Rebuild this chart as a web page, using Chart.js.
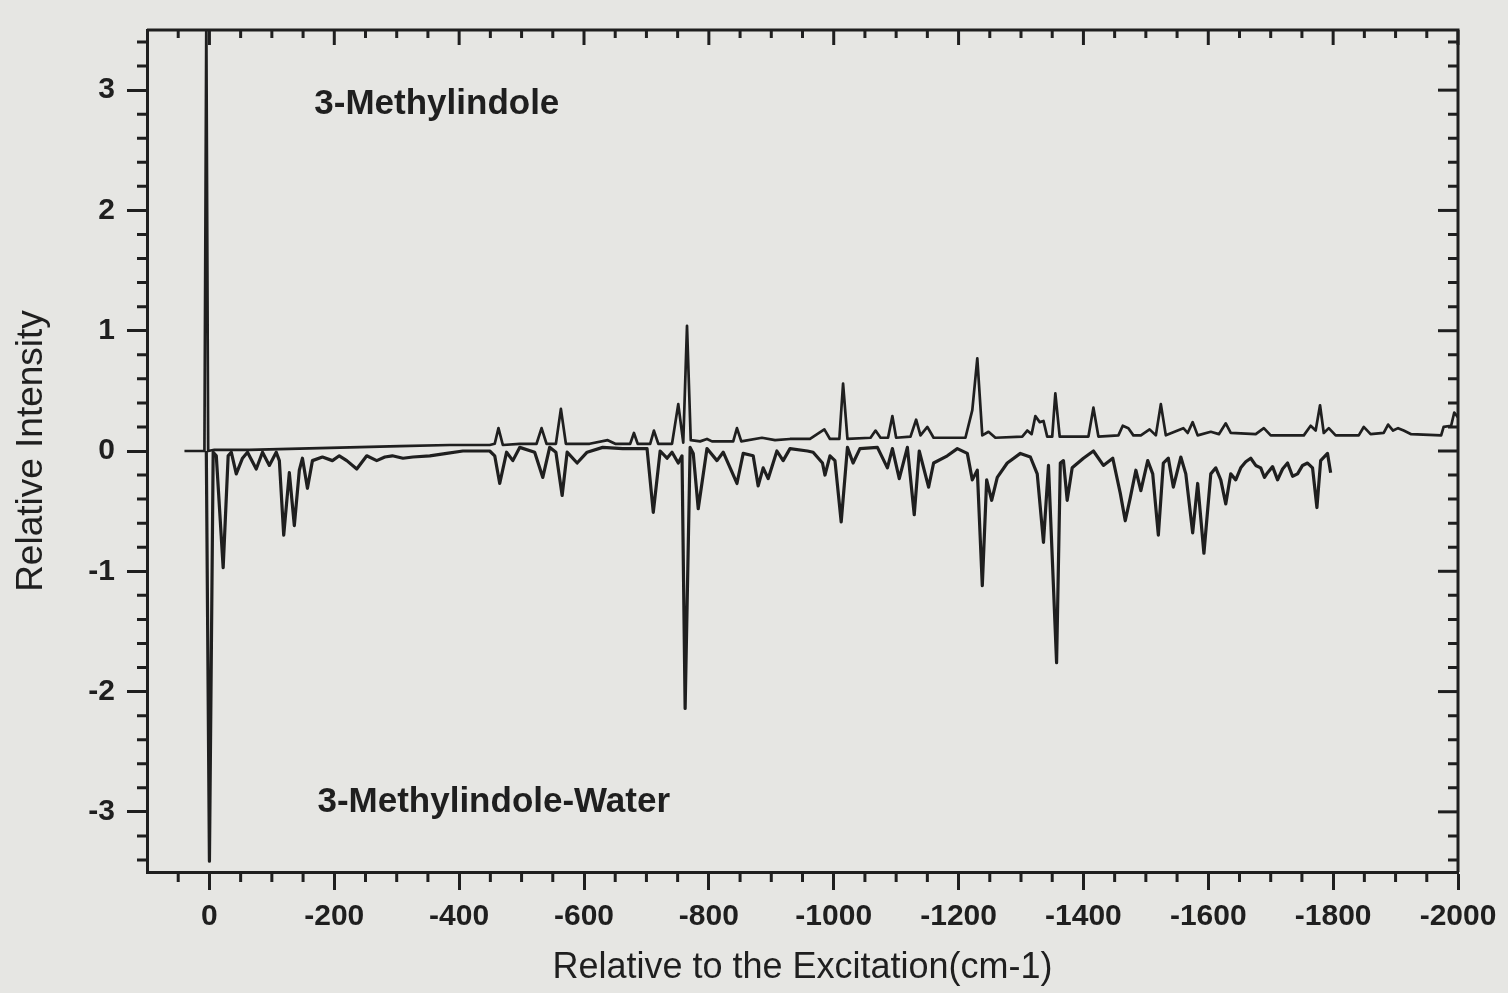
<!DOCTYPE html>
<html>
<head>
<meta charset="utf-8">
<title>3-Methylindole</title>
<script src="https://cdn.jsdelivr.net/npm/chart.js@4.4.1/dist/chart.umd.min.js"></script>
<style>
html, body { margin: 0; padding: 0; background: #e6e6e3; }
#wrap { width: 1508px; height: 993px; }
</style>
</head>
<body>
<div id="wrap"><canvas id="c"></canvas></div>
<script>
// 3-Methylindole (upper trace)
const upperX = [40, 16, 8, 5, 2,
  -8, -64, -144, -225, -305, -385,
  -449, -457, -463, -470,
  -497, -524, -532, -540,
  -555, -563, -571,
  -609, -638, -650,
  -674, -680, -686,
  -706, -712, -719,
  -741, -751, -759, -765, -771,
  -786, -797, -805,
  -839, -845, -852,
  -885, -906, -930, -962,
  -985, -994, -1009, -1015, -1022,
  -1059, -1067, -1075,
  -1087, -1094, -1100,
  -1123, -1132, -1139, -1150, -1160,
  -1211, -1222, -1230, -1238, -1248, -1259,
  -1302, -1310, -1317, -1323, -1330, -1336, -1342,
  -1350, -1355, -1362,
  -1408, -1416, -1424,
  -1456, -1463, -1472, -1480,
  -1492, -1506, -1516, -1524, -1532,
  -1560, -1567, -1575, -1583,
  -1604, -1617, -1628, -1636,
  -1676, -1689, -1700,
  -1753, -1764, -1772, -1779, -1785, -1793, -1804,
  -1841, -1849, -1860,
  -1881, -1888, -1896, -1904, -1913, -1925,
  -1973, -1977, -1989, -1994, -2000];
const upperY = [0, 0, 0, 3.6, 0,
  0.01, 0.01, 0.02, 0.03, 0.04, 0.05,
  0.05, 0.06, 0.19, 0.05,
  0.06, 0.06, 0.19, 0.06,
  0.06, 0.35, 0.06,
  0.06, 0.09, 0.06,
  0.06, 0.15, 0.06,
  0.06, 0.17, 0.06,
  0.06, 0.39, 0.07, 1.04, 0.09,
  0.08, 0.10, 0.08,
  0.08, 0.19, 0.08,
  0.11, 0.09, 0.10, 0.10,
  0.18, 0.10, 0.10, 0.56, 0.10,
  0.11, 0.17, 0.11,
  0.11, 0.29, 0.11,
  0.12, 0.26, 0.13, 0.20, 0.11,
  0.11, 0.34, 0.77, 0.13, 0.16, 0.11,
  0.12, 0.17, 0.14, 0.29, 0.24, 0.25, 0.12,
  0.12, 0.48, 0.12,
  0.12, 0.36, 0.12,
  0.13, 0.21, 0.19, 0.13,
  0.13, 0.18, 0.13, 0.39, 0.13,
  0.19, 0.15, 0.24, 0.13,
  0.16, 0.14, 0.23, 0.15,
  0.14, 0.19, 0.13,
  0.13, 0.21, 0.17, 0.38, 0.15, 0.19, 0.13,
  0.13, 0.20, 0.14,
  0.15, 0.22, 0.17, 0.19, 0.17, 0.14,
  0.13, 0.20, 0.21, 0.32, 0.28];

// 3-Methylindole-Water (lower trace)
const lowerX = [5, 0, -6, -11, -22, -30, -35, -43, -53, -61, -75, -85, -96, -107, -112,
  -119, -128, -136, -144, -149, -157, -165, -181, -197, -208, -220, -236, -252, -268,
  -281, -293, -310, -326, -353, -380, -406, -433, -449, -457, -465, -476, -486, -497,
  -521, -534, -545, -555, -565, -573, -589, -605, -630, -662, -701, -711, -722, -733,
  -741, -751, -757, -762, -770, -775, -783, -797, -813, -823, -845, -855, -871, -879,
  -887, -895, -909, -919, -930, -958, -967, -982, -986, -994, -1002, -1012, -1022,
  -1031, -1042, -1070, -1086, -1094, -1105, -1118, -1129, -1137, -1152, -1160, -1182,
  -1198, -1214, -1222, -1230, -1238, -1245, -1253, -1262, -1278, -1299, -1315, -1326,
  -1336, -1344, -1357, -1363, -1368, -1374, -1382, -1400, -1416, -1432, -1447, -1459,
  -1467, -1475, -1484, -1492, -1503, -1511, -1520, -1528, -1536, -1544, -1556, -1564,
  -1575, -1583, -1593, -1604, -1612, -1620, -1628,
  -1636, -1644, -1652, -1660, -1668, -1676, -1684, -1690, -1695, -1703, -1711,
  -1719, -1727, -1735, -1743, -1751, -1759, -1767, -1774, -1780, -1791, -1796];
const lowerY = [0, -3.41, -0.01, -0.04, -0.97, -0.04, -0.01, -0.19, -0.06, -0.01, -0.15, -0.01, -0.12, -0.01, -0.08,
  -0.70, -0.18, -0.62, -0.16, -0.06, -0.31, -0.08, -0.05, -0.08, -0.04, -0.08, -0.15, -0.04, -0.08,
  -0.05, -0.04, -0.06, -0.05, -0.04, -0.02, 0, 0, 0, -0.04, -0.27, -0.01, -0.08, 0.03,
  -0.01, -0.22, 0.03, -0.01, -0.37, -0.01, -0.10, -0.01, 0.03, 0.02, 0.02, -0.51, 0, -0.06,
  -0.01, -0.10, -0.04, -2.14, 0.03, -0.02, -0.48, 0.02, -0.08, -0.01, -0.27, -0.02, -0.04, -0.29,
  -0.14, -0.23, 0, -0.08, 0.02, 0, -0.01, -0.10, -0.20, -0.04, -0.08, -0.59, 0.03,
  -0.10, 0.02, 0.03, -0.14, 0.02, -0.23, 0.03, -0.53, 0, -0.30, -0.10, -0.04,
  0.02, -0.02, -0.24, -0.16, -1.12, -0.24, -0.41, -0.22, -0.10, -0.02, -0.05, -0.19,
  -0.76, -0.12, -1.76, -0.10, -0.08, -0.41, -0.14, -0.06, 0, -0.12, -0.06, -0.35,
  -0.58, -0.39, -0.16, -0.33, -0.08, -0.19, -0.70, -0.10, -0.06, -0.30, -0.05, -0.19,
  -0.68, -0.27, -0.85, -0.19, -0.14, -0.24, -0.44,
  -0.19, -0.24, -0.14, -0.09, -0.06, -0.12, -0.14, -0.22, -0.18, -0.13, -0.24,
  -0.15, -0.10, -0.21, -0.19, -0.12, -0.10, -0.14, -0.47, -0.08, -0.02, -0.18];

const xTicks = [0, -200, -400, -600, -800, -1000, -1200, -1400, -1600, -1800, -2000];
const yTicks = [-3, -2, -1, 0, 1, 2, 3];

const INK = '#1f1f1f';
const FONT = '"Liberation Sans", Arial, sans-serif';

function pts(xs, ys) {
  return xs.map((v, i) => ({ x: v, y: ys[i] }));
}

// box, minor ticks and inward ticks on top/right
const frame = {
  id: 'frame',
  afterDraw(chart) {
    const { ctx, chartArea: a, scales: { x, y } } = chart;
    ctx.save();
    ctx.strokeStyle = INK;
    ctx.lineWidth = 3;
    ctx.beginPath();
    ctx.moveTo(a.left, a.top);
    ctx.lineTo(a.right, a.top);
    ctx.lineTo(a.right, a.bottom);
    ctx.stroke();
    for (let k = 1; k >= -40; k--) {
      const px = x.getPixelForValue(k * 50);
      const major = k % 4 === 0;
      ctx.beginPath();
      if (!major) {
        ctx.moveTo(px, a.bottom);
        ctx.lineTo(px, a.bottom + 10);
      }
      ctx.moveTo(px, a.top);
      ctx.lineTo(px, a.top + (major ? 15 : 8));
      ctx.stroke();
    }
    for (let k = -17; k <= 17; k++) {
      const py = y.getPixelForValue(k / 5);
      const major = k % 5 === 0;
      ctx.beginPath();
      if (!major) {
        ctx.moveTo(a.left, py);
        ctx.lineTo(a.left - 10, py);
      }
      ctx.moveTo(a.right, py);
      ctx.lineTo(a.right - (major ? 20 : 10), py);
      ctx.stroke();
    }
    // trace labels
    ctx.fillStyle = INK;
    ctx.font = 'bold 35px ' + FONT;
    ctx.textBaseline = 'middle';
    ctx.fillText('3-Methylindole', x.getPixelForValue(-168), y.getPixelForValue(2.88));
    ctx.fillText('3-Methylindole-Water', x.getPixelForValue(-173), y.getPixelForValue(-2.92));
    ctx.restore();
  }
};

const bg = {
  id: 'bg',
  beforeDraw(chart) {
    const ctx = chart.ctx;
    ctx.save();
    ctx.fillStyle = '#e6e6e3';
    ctx.fillRect(0, 0, chart.width, chart.height);
    ctx.restore();
  }
};

new Chart(document.getElementById('c'), {
  type: 'line',
  data: {
    datasets: [
      { label: '3-Methylindole', data: pts(upperX, upperY), borderWidth: 2.7 },
      { label: '3-Methylindole-Water', data: pts(lowerX, lowerY), borderWidth: 3.2 }
    ]
  },
  options: {
    responsive: true,
    maintainAspectRatio: false,
    animation: false,
    layout: { padding: { top: 28, right: 50, left: 0, bottom: 0 } },
    elements: {
      line: { borderColor: INK, tension: 0, fill: false, borderJoinStyle: 'round' },
      point: { radius: 0, hoverRadius: 0 }
    },
    plugins: { legend: { display: false }, tooltip: { enabled: false } },
    scales: {
      x: {
        type: 'linear',
        min: -2000,
        max: 100,
        reverse: true,
        afterFit(s) { s.height = 121; },
        afterBuildTicks(s) { s.ticks = xTicks.map(v => ({ value: v })); },
        border: { display: true, color: INK, width: 3 },
        grid: { drawOnChartArea: false, drawTicks: true, tickLength: 18, tickWidth: 3, tickColor: INK },
        ticks: {
          color: INK,
          padding: 9,
          maxRotation: 0,
          font: { family: FONT, size: 30, weight: 'bold' },
          callback: v => String(v)
        },
        title: {
          display: true,
          text: 'Relative to the Excitation(cm-1)',
          color: INK,
          padding: { top: 0, bottom: 3 },
          font: { family: FONT, size: 36 }
        }
      },
      y: {
        type: 'linear',
        min: -3.5,
        max: 3.5,
        afterFit(s) { s.width = 147; },
        afterBuildTicks(s) { s.ticks = yTicks.map(v => ({ value: v })); },
        border: { display: true, color: INK, width: 3 },
        grid: { drawOnChartArea: false, drawTicks: true, tickLength: 20, tickWidth: 3, tickColor: INK },
        ticks: {
          color: INK,
          padding: 12,
          font: { family: FONT, size: 30, weight: 'bold' },
          callback: v => String(v)
        },
        title: {
          display: true,
          text: 'Relative Intensity',
          color: INK,
          padding: { top: 10, bottom: 0 },
          font: { family: FONT, size: 37 }
        }
      }
    }
  },
  plugins: [bg, frame]
});
</script>
</body>
</html>
